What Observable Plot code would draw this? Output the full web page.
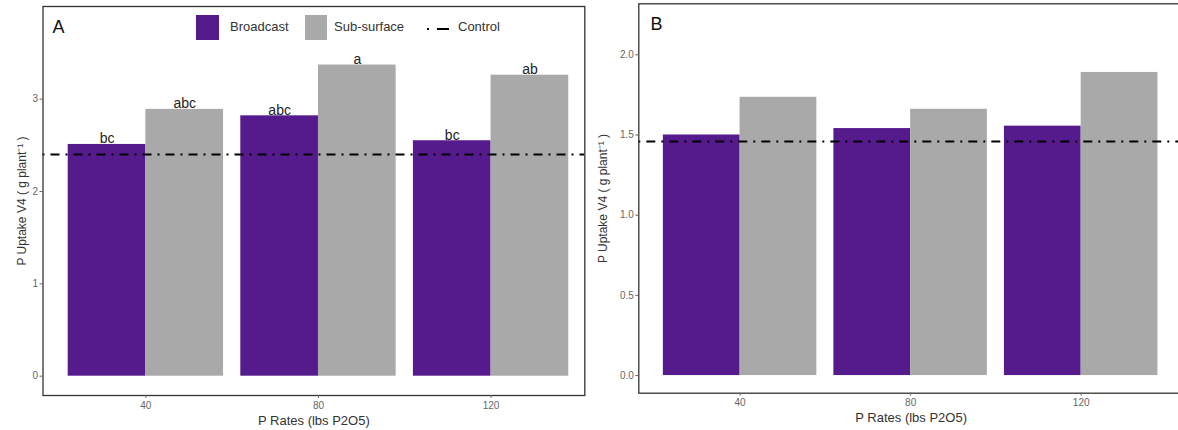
<!DOCTYPE html>
<html><head><meta charset="utf-8">
<script src="https://cdn.jsdelivr.net/npm/d3@7"></script>
<script src="https://cdn.jsdelivr.net/npm/@observablehq/plot@0.6"></script>
<style>
body{margin:0;background:#fff;font-family:"Liberation Sans",Arial,sans-serif;}
#wrap{position:relative;width:1178px;height:430px;overflow:hidden;background:#fff;}
#wrap svg.panel{position:absolute;top:0;}
#legend{position:absolute;left:189px;top:8px;width:316px;height:38px;background:#fff;}
#legend .sw{position:absolute;top:7px;width:23px;height:25px;}
#legend .lb{position:absolute;top:12px;font-size:13px;color:#333;line-height:14px;white-space:nowrap;}
#legend svg{position:absolute;top:0;}
</style></head><body><div id="wrap"><div id="legend"></div></div>
<script>
const rates = ["40", "80", "120"];
const treatments = ["Broadcast", "Sub-surface"];
const treatmentColors = ["#551A8B", "#A9A9A9"];
const controlName = "Control";
const broadcastA = [2.51, 2.82, 2.55];
const subsurfaceA = [2.89, 3.37, 3.26];
const broadcastLettersA = ["bc", "abc", "bc"];
const subsurfaceLettersA = ["abc", "a", "ab"];
const controlA = 2.40;
const broadcastB = [1.50, 1.54, 1.555];
const subsurfaceB = [1.735, 1.66, 1.89];
const controlB = 1.46;
const yTicksA = [0, 1, 2, 3];
const yTicksB = [0, 0.5, 1.0, 1.5, 2.0];
const yTitle = "P Uptake V4 ( g plant⁻¹ )";
const xTitle = "P Rates (lbs P2O5)";
const panelLabels = ["A", "B"];

function rows(broadcast, subsurface, bl, sl) {
  const out = [];
  rates.forEach((r, i) => {
    [broadcast, subsurface].forEach((vals, t) => {
      const letters = t === 0 ? bl : sl;
      out.push({rate: r, pos: i + 1, t, treatment: treatments[t], value: vals[i], letter: letters ? letters[i] : ""});
    });
  });
  return out;
}
const dodge = 0.45;
function panel(o) {
  const svg = Plot.plot({
    width: o.width, height: 430,
    marginLeft: o.ml, marginRight: o.mr, marginTop: o.mt, marginBottom: o.mb,
    style: {fontFamily: "Liberation Sans, Arial, sans-serif", overflow: "visible", background: "transparent"},
    x: {type: "linear", domain: o.xDomain},
    y: {domain: o.yDomain},
    color: {domain: treatments, range: treatmentColors},
    marks: [
      Plot.rectY(o.data, {x1: d => d.pos + (d.t - 1) * dodge, x2: d => d.pos + d.t * dodge, y1: 0, y2: "value", fill: "treatment"}),
      Plot.ruleY([o.control], {stroke: "#000", strokeWidth: 2, strokeDasharray: "2,6,9,6"}),
      Plot.text(o.data, {x: d => d.pos + (d.t - 0.5) * dodge, y: "value", text: "letter", lineAnchor: "bottom", dy: -1, fontSize: 14, fill: "#222"}),
      Plot.frame({stroke: "#333", strokeWidth: 1.3}),
      Plot.axisY({ticks: o.yTicks, tickFormat: o.tickFmt, tickSize: 3, tickPadding: 2, fontSize: 10, stroke: "#666", fill: "#666", label: null}),
      Plot.axisX({ticks: [1, 2, 3], tickFormat: i => rates[i - 1], tickSize: 3, tickPadding: 3, fontSize: 10, stroke: "#666", fill: "#666", label: null}),
      Plot.text([yTitle], {text: d => d, frameAnchor: "left", textAnchor: "middle", lineAnchor: "middle", dx: o.titleDx, rotate: -90, fontSize: 12, fill: "#333"}),
      Plot.text([xTitle], {text: d => d, frameAnchor: "bottom", textAnchor: "middle", lineAnchor: "middle", dy: 25, fontSize: 13, fill: "#333"}),
      Plot.text([o.label], {text: d => d, frameAnchor: "top-left", textAnchor: "start", lineAnchor: "top", dx: o.ldx, dy: o.ldy, fontSize: 18, fill: "#111"})
    ]
  });
  svg.classList.add("panel");
  svg.style.left = o.left + "px";
  return svg;
}

const wrap = document.getElementById("wrap");
const legend = document.getElementById("legend");
wrap.insertBefore(panel({
  data: rows(broadcastA, subsurfaceA, broadcastLettersA, subsurfaceLettersA),
  control: controlA, yDomain: [-0.209, 4.004], yTicks: yTicksA, tickFmt: d => String(d),
  xDomain: [0.404, 3.543], width: 590, left: 0, ml: 42.5, mr: 5.7, mt: 6, mb: 35,
  titleDx: -20.8, label: panelLabels[0], ldx: 9.5, ldy: 14
}), legend);
wrap.insertBefore(panel({
  data: rows(broadcastB, subsurfaceB, null, null),
  control: controlB, yDomain: [-0.110, 2.318], yTicks: yTicksB, tickFmt: d3.format(".1f"),
  xDomain: [0.406, 3.6], width: 593, left: 590, ml: 48.3, mr: 0, mt: 3.3, mb: 37.3,
  titleDx: -36, label: panelLabels[1], ldx: 11.7, ldy: 13.7
}), legend);

// legend
const items = [
  {kind: "sw", color: treatmentColors[0], x: 7, w: 23},
  {kind: "lb", text: treatments[0], x: 41},
  {kind: "sw", color: treatmentColors[1], x: 116, w: 22},
  {kind: "lb", text: treatments[1], x: 145},
  {kind: "line", x: 236},
  {kind: "lb", text: controlName, x: 269}
];
items.forEach(it => {
  if (it.kind === "sw") {
    const d = document.createElement("div");
    d.className = "sw"; d.style.left = it.x + "px"; d.style.width = it.w + "px"; d.style.background = it.color;
    legend.appendChild(d);
  } else if (it.kind === "lb") {
    const d = document.createElement("div");
    d.className = "lb"; d.style.left = it.x + "px"; d.textContent = it.text;
    legend.appendChild(d);
  } else {
    const ns = "http://www.w3.org/2000/svg";
    const s = document.createElementNS(ns, "svg");
    s.setAttribute("width", 26); s.setAttribute("height", 38);
    s.style.left = it.x + "px";
    const l = document.createElementNS(ns, "line");
    l.setAttribute("x1", 2); l.setAttribute("x2", 24); l.setAttribute("y1", 21); l.setAttribute("y2", 21);
    l.setAttribute("stroke", "#000"); l.setAttribute("stroke-width", 2); l.setAttribute("stroke-dasharray", "2,8,12");
    s.appendChild(l);
    legend.appendChild(s);
  }
});
</script></body></html>
